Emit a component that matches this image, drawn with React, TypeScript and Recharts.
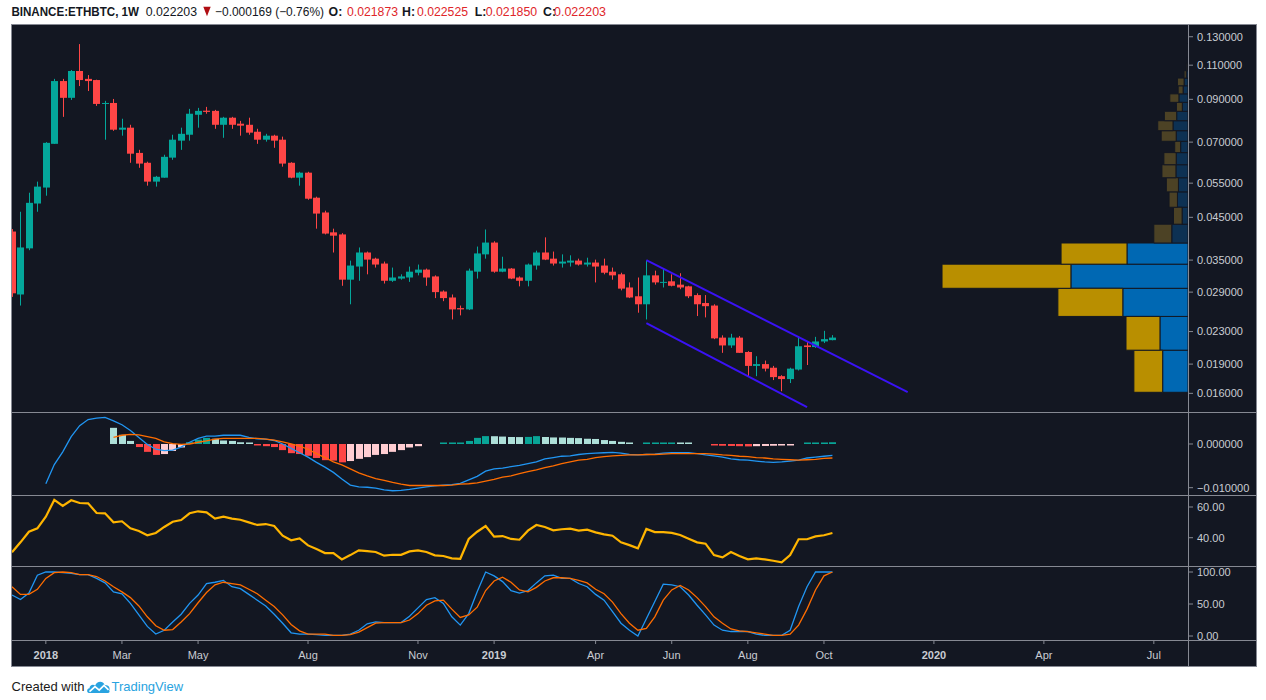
import React from "react";
import {
  ComposedChart,
  Bar,
  Line,
  XAxis,
  YAxis,
  ReferenceArea,
  ReferenceLine,
} from "recharts";

// ---------- Weekly candles (BINANCE:ETHBTC, 1W), from week of 4 Dec 2017 ----------
const OPEN = [
  0.0414, 0.0286, 0.0375, 0.0488, 0.0536, 0.0693, 0.1002, 0.0908, 0.1063, 0.1015,
  0.1008, 0.0876, 0.0881, 0.0753, 0.0762, 0.0657, 0.062, 0.0555, 0.0568, 0.0639,
  0.0706, 0.0731, 0.0822, 0.0842, 0.0841, 0.0775, 0.0808, 0.078, 0.0775, 0.0744,
  0.071, 0.0727, 0.071, 0.062, 0.0568, 0.0585, 0.0505, 0.0463, 0.0412, 0.0407,
  0.0312, 0.0337, 0.0366, 0.0353, 0.0343, 0.031, 0.0314, 0.0316, 0.0325, 0.0331,
  0.0318, 0.0291, 0.0281, 0.0264, 0.0262, 0.0327, 0.0362, 0.0388, 0.0327, 0.0333,
  0.0316, 0.031, 0.0339, 0.0366, 0.0353, 0.0343, 0.0345, 0.0349, 0.0341, 0.0345,
  0.0339, 0.0327, 0.0322, 0.0298, 0.0283, 0.027, 0.032, 0.0307, 0.0309, 0.0303,
  0.03, 0.0285, 0.0272, 0.0268, 0.0222, 0.0212, 0.0222, 0.0204, 0.0188, 0.019,
  0.0186, 0.0177, 0.0174, 0.0184, 0.0212, 0.021, 0.0217, 0.021873,
];
const HIGH = [
  0.042, 0.0465, 0.052, 0.0555, 0.07, 0.1015, 0.1015, 0.1069, 0.1245, 0.1038,
  0.101, 0.0892, 0.0902, 0.0803, 0.0775, 0.0669, 0.0624, 0.0574, 0.065, 0.0731,
  0.0762, 0.0851, 0.0856, 0.0861, 0.0846, 0.0812, 0.0812, 0.0793, 0.0808, 0.0757,
  0.0735, 0.0731, 0.0723, 0.0622, 0.0588, 0.0588, 0.0508, 0.0468, 0.0421, 0.041,
  0.0349, 0.0377, 0.0368, 0.0355, 0.0347, 0.0335, 0.0322, 0.0337, 0.0341, 0.0333,
  0.032, 0.0293, 0.0286, 0.0268, 0.0333, 0.0379, 0.0419, 0.0391, 0.0357, 0.0334,
  0.0318, 0.0343, 0.037, 0.04, 0.0368, 0.0362, 0.036, 0.0353, 0.0355, 0.0351,
  0.0353, 0.0335, 0.0325, 0.0307, 0.0316, 0.0349, 0.0329, 0.0333, 0.0322, 0.0324,
  0.0301, 0.0288, 0.0285, 0.027, 0.0225, 0.0227, 0.0224, 0.0205, 0.0199, 0.0194,
  0.0188, 0.0178, 0.0186, 0.0224, 0.0217, 0.0223, 0.0231, 0.022525,
];
const LOW = [
  0.0282, 0.0268, 0.0371, 0.0465, 0.0511, 0.0693, 0.0812, 0.0897, 0.0973, 0.0945,
  0.0866, 0.071, 0.0748, 0.0727, 0.062, 0.0602, 0.0542, 0.0539, 0.0568, 0.0631,
  0.0669, 0.0706, 0.0762, 0.0827, 0.0757, 0.0718, 0.0757, 0.0727, 0.0731, 0.0693,
  0.0702, 0.0677, 0.0606, 0.0566, 0.0542, 0.0499, 0.0421, 0.0407, 0.0366, 0.0301,
  0.027, 0.031, 0.0322, 0.0335, 0.0305, 0.0308, 0.0312, 0.0308, 0.032, 0.0301,
  0.028, 0.0275, 0.0247, 0.0253, 0.0261, 0.0314, 0.0353, 0.0325, 0.0326, 0.0313,
  0.03, 0.03, 0.0331, 0.035, 0.0339, 0.0335, 0.0337, 0.0339, 0.0337, 0.0307,
  0.0322, 0.0312, 0.0293, 0.028, 0.0257, 0.0247, 0.0303, 0.0298, 0.03, 0.0295,
  0.028, 0.0252, 0.025, 0.022, 0.0203, 0.0209, 0.0203, 0.0177, 0.0177, 0.0182,
  0.0173, 0.0162, 0.017, 0.0183, 0.0189, 0.0209, 0.0215, 0.02185,
];
const CLOSE = [
  0.0288, 0.0377, 0.049, 0.0539, 0.0697, 0.1002, 0.0908, 0.1063, 0.1008, 0.1002,
  0.0876, 0.0881, 0.0753, 0.0762, 0.0654, 0.0617, 0.0555, 0.0571, 0.0642, 0.071,
  0.0735, 0.0827, 0.0841, 0.0836, 0.0775, 0.0808, 0.0775, 0.0771, 0.074, 0.071,
  0.0727, 0.0706, 0.0617, 0.0568, 0.0585, 0.0502, 0.046, 0.0409, 0.0404, 0.0312,
  0.0339, 0.0366, 0.0351, 0.0341, 0.031, 0.0316, 0.0318, 0.0327, 0.0331, 0.0316,
  0.029, 0.028, 0.0262, 0.0262, 0.0329, 0.0364, 0.0388, 0.0327, 0.0333, 0.0314,
  0.031, 0.0341, 0.0366, 0.0351, 0.0343, 0.0347, 0.0349, 0.0341, 0.0345, 0.0337,
  0.0325, 0.032, 0.0296, 0.0281, 0.027, 0.032, 0.0307, 0.0308, 0.0301, 0.0298,
  0.0283, 0.027, 0.0267, 0.0221, 0.0212, 0.0222, 0.0203, 0.0188, 0.019, 0.0185,
  0.0176, 0.0174, 0.0185, 0.0211, 0.021, 0.0217, 0.022, 0.022203,
];

// ---------- MACD (12, 26, 9) ----------
const MACD = [
  null, null, null, null, -0.0091, -0.0047, -0.0018, 0.0017, 0.0042, 0.0056,
  0.0059, 0.0061, 0.0053, 0.0044, 0.0031, 0.0015, -0.0001, -0.0012, -0.0015, -0.0014,
  -0.0007, 0.0004, 0.0013, 0.0018, 0.0018, 0.002, 0.002, 0.002, 0.0015, 0.0012,
  0.0011, 0.0008, 0.0, -0.001, -0.002, -0.003, -0.0042, -0.0053, -0.0065, -0.008,
  -0.0094, -0.0098, -0.0099, -0.0101, -0.0105, -0.0107, -0.0106, -0.0104, -0.0101, -0.0098,
  -0.0096, -0.0094, -0.0093, -0.009, -0.0082, -0.0074, -0.0062, -0.0057, -0.0055, -0.0052,
  -0.0049, -0.0045, -0.0041, -0.0034, -0.0031, -0.0028, -0.0027, -0.0024, -0.0022, -0.0021,
  -0.002, -0.0019, -0.0021, -0.0024, -0.0025, -0.0024, -0.0023, -0.0021, -0.002, -0.002,
  -0.002, -0.0022, -0.0025, -0.0027, -0.003, -0.0034, -0.0036, -0.0037, -0.0039, -0.0041,
  -0.0042, -0.0041, -0.0039, -0.0037, -0.0032, -0.003, -0.0028, -0.0026,
];
const SIGNAL = [
  null, null, null, null, null, null, null, null, null, null,
  null, null, 0.0015, 0.002, 0.0022, 0.0021, 0.0017, 0.0013, 0.0005, 0.0001,
  -0.0001, 0.0, 0.0004, 0.0007, 0.0011, 0.0013, 0.0013, 0.0013, 0.0013, 0.0013,
  0.0011, 0.0009, 0.0005, 0.0, -0.0005, -0.0012, -0.0022, -0.0031, -0.0041, -0.0048,
  -0.0057, -0.0066, -0.0073, -0.0079, -0.0083, -0.0088, -0.0092, -0.0095, -0.0095, -0.0095,
  -0.0095, -0.0095, -0.0094, -0.0092, -0.0091, -0.0089, -0.0085, -0.0081, -0.0076, -0.0073,
  -0.0068, -0.0063, -0.0059, -0.0054, -0.005, -0.0045, -0.0041, -0.0037, -0.0035, -0.0031,
  -0.0029, -0.0027, -0.0026, -0.0025, -0.0025, -0.0024, -0.0024, -0.0023, -0.0022, -0.0022,
  -0.0022, -0.0022, -0.0022, -0.0023, -0.0025, -0.0026, -0.0028, -0.0029, -0.0031, -0.0032,
  -0.0034, -0.0035, -0.0036, -0.0037, -0.0036, -0.0035, -0.0033, -0.0032,
];
const HIST = [
  null, null, null, null, null, null, null, null, null, null,
  null, null, 0.0037, 0.0021, 0.0007, -0.0007, -0.0018, -0.0025, -0.0023, -0.0016,
  -0.0008, 0.0004, 0.001, 0.0014, 0.0012, 0.0008, 0.0007, 0.0004, 0.0002, -0.0002,
  -0.0005, -0.0007, -0.0014, -0.0021, -0.0023, -0.0027, -0.0032, -0.0037, -0.0038, -0.0042,
  -0.0039, -0.0034, -0.003, -0.0025, -0.0023, -0.0018, -0.0014, -0.0008, -0.0005, 0,
  0, 0.0001, 0.00012, 0.00014, 0.0007, 0.0014, 0.0018, 0.00178, 0.0017, 0.0016,
  0.00158, 0.00162, 0.0018, 0.0016, 0.0015, 0.00148, 0.0014, 0.00135, 0.0012, 0.00115,
  0.0009, 0.0007, 0.0005, 0.0003, 0, 0.0001, 0.00012, 0.00014, 0.00016, 0.00014,
  0.00012, 0, 0, -0.0003, -0.0004, -0.00045, -0.0005, -0.00055, -0.0005, -0.00045,
  -0.0004, -0.00035, -0.0002, 0, 0.0001, 0.0002, 0.0003, 0.0004,
];

// ---------- RSI (14) ----------
const RSI = [
  30.5, 37.0, 43.9, 46.1, 53.7, 64.6, 60.7, 64.4, 62.6, 62.4,
  56.1, 55.9, 50.0, 50.7, 46.1, 44.4, 41.6, 43.1, 47.0, 50.4,
  51.5, 55.9, 57.2, 56.5, 52.4, 53.7, 52.4, 51.7, 50.0, 48.3,
  48.9, 47.6, 41.3, 38.3, 39.6, 35.0, 32.6, 30.0, 30.0, 25.9,
  28.7, 31.8, 31.3, 30.7, 28.3, 28.9, 28.9, 31.1, 31.8, 30.7,
  28.5, 28.1, 26.6, 26.3, 39.2, 43.9, 47.6, 40.7, 41.1, 39.2,
  38.7, 44.6, 48.3, 47.0, 44.8, 45.5, 45.9, 44.6, 45.2, 43.5,
  42.2, 41.3, 37.0, 35.2, 33.1, 45.7, 43.7, 43.7, 43.1, 41.8,
  39.4, 37.0, 36.1, 28.7, 27.2, 30.7, 28.1, 25.9, 26.6, 25.9,
  25.0, 24.0, 28.7, 39.0, 39.0, 40.9, 41.6, 43.1,
];

// ---------- Stochastic %K / %D ----------
const STOCH_K = [
  64, 57, 67, 95, 100, 100, 99, 98, 96, 96,
  90, 83, 69, 66, 51, 33, 15, 3, 9, 22,
  34, 51, 64, 82, 84, 87, 77, 74, 65, 56,
  47, 34, 20, 5, 3, 3, 2, 1, 1, 1,
  3, 9, 19, 22, 21, 21, 21, 31, 44, 57,
  60, 51, 30, 17, 35, 69, 100, 94, 85, 71,
  67, 71, 83, 94, 95, 90, 90, 82, 77, 65,
  56, 38, 20, 9, 0, 27, 54, 81, 80, 77,
  64, 48, 33, 17, 9, 7, 7, 7, 3, 1,
  1, 1, 9, 46, 77, 100, 100, 100,
];
const STOCH_D = [
  77, 65, 65, 73, 90, 99, 100, 99, 96, 96,
  93, 86, 77, 69, 60, 47, 30, 16, 9, 10,
  22, 35, 52, 68, 80, 84, 82, 80, 73, 66,
  56, 46, 33, 18, 8, 3, 3, 3, 1, 1,
  2, 6, 13, 20, 21, 21, 21, 25, 35, 48,
  55, 56, 42, 29, 33, 45, 71, 86, 92, 84,
  72, 69, 76, 86, 91, 91, 90, 87, 83, 73,
  66, 53, 35, 20, 9, 12, 30, 56, 72, 79,
  72, 60, 46, 30, 20, 11, 8, 7, 5, 3,
  1, 1, 3, 17, 42, 72, 94, 100,
];

// ---------- Volume profile (visible range), rows of equal price height ----------
const VP_BASE = 0.0161;
const VP_STEP = 0.00452;
const VP_UP = [10.3, 11.4, 26.5, 47.6, 24.8, 6.6, 2.4, 4.3, 3.9, 4.9, 4.8, 3.0, 4.8, 6.1, 4.6, 2.3, 3.7, 2.0, 1.6, 0.7, 0.3, 0.2, 0.1, 0.1];
const VP_DOWN = [11.7, 13.8, 26.4, 52.4, 26.8, 7.3, 3.5, 3.4, 4.9, 5.7, 5.0, 2.4, 6.1, 6.2, 5.0, 2.4, 3.7, 2.0, 2.7, 0.9, 0.4, 0.2, 0.1, 0.1];
const VP_VALUE_AREA = [true, true, true, true, true, false, false, false, false, false, false, false, false, false, false, false, false, false, false, false, false, false, false, false];

// ---------- Drawn channel ----------
const CHANNEL_UPPER = [{ x: 75, y: 0.035 }, { x: 105.9, y: 0.01612 }];
const CHANNEL_LOWER = [{ x: 75, y: 0.02418 }, { x: 94.0, y: 0.01475 }];

// ---------- Axes ----------
const PRICE_TICKS = [0.016, 0.019, 0.023, 0.029, 0.035, 0.045, 0.055, 0.07, 0.09, 0.11, 0.13];
const MACD_TICKS = [-0.01, 0];
const RSI_TICKS = [40, 60];
const STOCH_TICKS = [0, 50, 100];
const X_TICKS = [4, 13, 22, 35, 48, 57, 69, 78, 87, 96, 109, 122, 135];
const X_LABELS = ["2018", "Mar", "May", "Aug", "Nov", "2019", "Apr", "Jun", "Aug", "Oct", "2020", "Apr", "Jul"];

const HEADER_SYMBOL = "BINANCE:ETHBTC, 1W";
const HEADER_CHANGE = "\u22120.000169 (\u22120.76%)";

// ---------- Styles ----------
const BG = "#131722";
const LINE_GRAY = "#868993";
const TXT = "#c9ccd2";
const FONT = "'Liberation Sans', Arial, Helvetica, sans-serif";
const UP = "#04a79b";
const DOWN = "#ff4646";
const CHANNEL = "#3a12f5";
const MACD_C = "#2196f3";
const SIGNAL_C = "#ff6d00";
const RSI_C = "#ffb500";
const H_GROW_ABOVE = "#09a597";
const H_FALL_ABOVE = "#aee0d9";
const H_GROW_BELOW = "#ffcdd2";
const H_FALL_BELOW = "#ff4646";
const VP_UP_C = "#0068b3";
const VP_DOWN_C = "#b98f00";
const VP_UP_FADED = "#0d3153";
const VP_DOWN_FADED = "#4c4225";

const W = 1245;
const AXIS_W = 68;
const X_DOMAIN: [number, number] = [-0.118, 139.04];
const PRICE_DOMAIN: [number, number] = [0.01434, 0.1401];
const MACD_DOMAIN: [number, number] = [-0.01167, 0.00732];
const RSI_DOMAIN: [number, number] = [21.6, 67.8];
const STOCH_DOMAIN: [number, number] = [-6.25, 109.4];
// the profile is anchored to the right edge of the price pane; its largest row
// (100 volume units) takes about 21% of the pane width
const VP_FULL_UNITS = 478.5;
const VP_SCALE = (X_DOMAIN[1] - X_DOMAIN[0]) / VP_FULL_UNITS;

function histColor(v: number | null, prev: number | null) {
  if (v == null) return null;
  const rising = prev != null && prev < v;
  if (v >= 0) return rising ? H_GROW_ABOVE : H_FALL_ABOVE;
  return rising ? H_GROW_BELOW : H_FALL_BELOW;
}

const data = OPEN.map((o, i) => ({
  i,
  o,
  h: HIGH[i],
  l: LOW[i],
  c: CLOSE[i],
  macd: MACD[i],
  signal: SIGNAL[i],
  hist: HIST[i],
  histColor: histColor(HIST[i], i > 0 ? HIST[i - 1] : null),
  rsi: RSI[i],
  k: STOCH_K[i],
  d: STOCH_D[i],
}));

const vpRows = VP_UP.map((up, k) => ({
  k,
  lo: VP_BASE + k * VP_STEP,
  hi: VP_BASE + (k + 1) * VP_STEP,
  upFrom: X_DOMAIN[1] - up * VP_SCALE,
  downFrom: X_DOMAIN[1] - (up + VP_DOWN[k]) * VP_SCALE,
  va: VP_VALUE_AREA[k],
}));

const candleRange = (d: any) => [d.l, d.h];

const CandleShape = (props: any) => {
  let { x, y, width, height } = props;
  const payload = props.payload;
  if (!payload || x == null || y == null) return null;
  if (height < 0) {
    y = y + height;
    height = -height;
  }
  const { o, h, l, c } = payload;
  const lnH = Math.log(h);
  const lnL = Math.log(l);
  const span = lnH - lnL || 1;
  const py = (v: number) => y + ((lnH - Math.log(v)) / span) * height;
  const color = c >= o ? UP : DOWN;
  const top = py(Math.max(o, c));
  const bot = py(Math.min(o, c));
  const left = Math.round(x);
  const w = Math.max(1, Math.round(width));
  const cx = left + Math.floor(w / 2);
  return (
    <g>
      <rect x={cx} y={y} width={1} height={Math.max(height, 1)} fill={color} />
      <rect x={left} y={top} width={w} height={Math.max(bot - top, 1)} fill={color} />
    </g>
  );
};

const HistShape = (props: any) => {
  const { x, y, width, height, payload } = props;
  if (!payload || payload.hist == null || payload.hist === 0 || x == null) return null;
  const v = payload.hist;
  const y1 = Math.min(y, y + height);
  const y2 = Math.max(y, y + height);
  const hgt = Math.max(y2 - y1, 1.5);
  const top = v > 0 ? y2 - hgt : y1;
  return <rect x={Math.round(x)} y={top} width={Math.round(width)} height={hgt} fill={payload.histColor} />;
};

const XTick = (props: any) => {
  const { x, y, payload } = props;
  const idx = X_TICKS.indexOf(payload.value);
  const label = idx >= 0 ? X_LABELS[idx] : "";
  const bold = /^\d{4}$/.test(label);
  return (
    <text x={x} y={y} dy="0.71em" textAnchor="middle" fill={TXT} fontSize={11} fontWeight={bold ? 700 : 400} fontFamily={FONT}>
      {label}
    </text>
  );
};

const tickStyle = { fill: TXT, fontSize: 11, fontFamily: FONT };
const margin0 = { top: 0, right: 0, bottom: 0, left: 0 };
const minusFmt = (digits: number) => (v: number) => (v < 0 ? "\u2212" : "") + Math.abs(v).toFixed(digits);

function MainPane() {
  return (
    <ComposedChart width={W} height={388} data={data} margin={margin0}>
      <XAxis dataKey="i" type="number" domain={X_DOMAIN} allowDataOverflow hide />
      <YAxis
        orientation="right"
        width={AXIS_W}
        scale="log"
        domain={PRICE_DOMAIN}
        allowDataOverflow
        ticks={PRICE_TICKS}
        interval={0}
        tickFormatter={(v: number) => v.toFixed(6)}
        axisLine={false}
        tickLine={{ stroke: LINE_GRAY }}
        tickSize={5}
        tickMargin={4}
        tick={tickStyle}
      />
      {vpRows.map((r) => (
        <ReferenceArea
          key={`vu${r.k}`}
          x1={r.upFrom}
          x2={X_DOMAIN[1]}
          y1={r.lo}
          y2={r.hi}
          fill={r.va ? VP_UP_C : VP_UP_FADED}
          fillOpacity={1}
          stroke={BG}
          strokeWidth={1}
          ifOverflow="visible"
        />
      ))}
      {vpRows.map((r) => (
        <ReferenceArea
          key={`vd${r.k}`}
          x1={r.downFrom}
          x2={r.upFrom}
          y1={r.lo}
          y2={r.hi}
          fill={r.va ? VP_DOWN_C : VP_DOWN_FADED}
          fillOpacity={1}
          stroke={BG}
          strokeWidth={1}
          ifOverflow="visible"
        />
      ))}
      <Bar dataKey={candleRange} shape={CandleShape} barSize={7} isAnimationActive={false} />
      <ReferenceLine segment={CHANNEL_UPPER} stroke={CHANNEL} strokeWidth={2} ifOverflow="visible" />
      <ReferenceLine segment={CHANNEL_LOWER} stroke={CHANNEL} strokeWidth={2} ifOverflow="visible" />
    </ComposedChart>
  );
}

function MacdPane() {
  return (
    <ComposedChart width={W} height={83} data={data} margin={margin0}>
      <XAxis dataKey="i" type="number" domain={X_DOMAIN} allowDataOverflow hide />
      <YAxis
        orientation="right"
        width={AXIS_W}
        domain={MACD_DOMAIN}
        allowDataOverflow
        ticks={MACD_TICKS}
        interval={0}
        tickFormatter={minusFmt(6)}
        axisLine={false}
        tickLine={{ stroke: LINE_GRAY }}
        tickSize={5}
        tickMargin={4}
        tick={tickStyle}
      />
      <Bar dataKey="hist" shape={HistShape} barSize={7} isAnimationActive={false} />
      <Line dataKey="macd" stroke={MACD_C} strokeWidth={1.3} dot={false} activeDot={false} isAnimationActive={false} />
      <Line dataKey="signal" stroke={SIGNAL_C} strokeWidth={1.3} dot={false} activeDot={false} isAnimationActive={false} />
    </ComposedChart>
  );
}

function RsiPane() {
  return (
    <ComposedChart width={W} height={71} data={data} margin={margin0}>
      <XAxis dataKey="i" type="number" domain={X_DOMAIN} allowDataOverflow hide />
      <YAxis
        orientation="right"
        width={AXIS_W}
        domain={RSI_DOMAIN}
        allowDataOverflow
        ticks={RSI_TICKS}
        interval={0}
        tickFormatter={(v: number) => v.toFixed(2)}
        axisLine={false}
        tickLine={{ stroke: LINE_GRAY }}
        tickSize={5}
        tickMargin={4}
        tick={tickStyle}
      />
      <Line dataKey="rsi" stroke={RSI_C} strokeWidth={2.2} dot={false} activeDot={false} isAnimationActive={false} />
    </ComposedChart>
  );
}

function StochPane() {
  return (
    <ComposedChart width={W} height={101} data={data} margin={margin0}>
      <XAxis
        dataKey="i"
        type="number"
        domain={X_DOMAIN}
        allowDataOverflow
        ticks={X_TICKS}
        interval={0}
        height={27}
        axisLine={false}
        tickLine={{ stroke: LINE_GRAY }}
        tickSize={4}
        tickMargin={7}
        tick={<XTick />}
      />
      <YAxis
        orientation="right"
        width={AXIS_W}
        domain={STOCH_DOMAIN}
        allowDataOverflow
        ticks={STOCH_TICKS}
        interval={0}
        tickFormatter={(v: number) => v.toFixed(2)}
        axisLine={false}
        tickLine={{ stroke: LINE_GRAY }}
        tickSize={5}
        tickMargin={4}
        tick={tickStyle}
      />
      <Line dataKey="k" stroke={MACD_C} strokeWidth={1.3} dot={false} activeDot={false} isAnimationActive={false} />
      <Line dataKey="d" stroke={SIGNAL_C} strokeWidth={1.3} dot={false} activeDot={false} isAnimationActive={false} />
    </ComposedChart>
  );
}

const hLine = (top: number) => (
  <div key={`h${top}`} style={{ position: "absolute", left: 11, top, width: 1246, height: 1, background: LINE_GRAY }} />
);

export default function App() {
  const last = OPEN.length - 1;
  const f6 = (v: number) => v.toFixed(6);
  const RED = "#e0262a";
  const DARK = "#131722";
  const HY = 15.5;
  return (
    <div
      style={{
        position: "absolute",
        left: 0,
        top: 0,
        width: 1266,
        height: 700,
        background: "#ffffff",
        overflow: "hidden",
        fontFamily: FONT,
      }}
    >
      <div style={{ position: "absolute", left: 11, top: 24, width: 1246, height: 643, background: BG }} />
      <div style={{ position: "absolute", left: 11, top: 24 }}>
        <MainPane />
      </div>
      <div style={{ position: "absolute", left: 11, top: 412 }}>
        <MacdPane />
      </div>
      <div style={{ position: "absolute", left: 11, top: 495 }}>
        <RsiPane />
      </div>
      <div style={{ position: "absolute", left: 11, top: 566 }}>
        <StochPane />
      </div>
      {/* frame and pane separators */}
      <div
        style={{
          position: "absolute",
          left: 11,
          top: 24,
          width: 1246,
          height: 643,
          border: `1px solid ${LINE_GRAY}`,
          boxSizing: "border-box",
        }}
      />
      {[412, 495, 566, 640].map(hLine)}
      <div style={{ position: "absolute", left: 1188, top: 24, width: 1, height: 643, background: LINE_GRAY }} />

      <svg width={1266} height={700} style={{ position: "absolute", left: 0, top: 0, pointerEvents: "none" }}>
        <g fontFamily={FONT} fontSize={12.3}>
          <text x={11.4} y={HY} fill={DARK} fontWeight={700} textLength={127.6} lengthAdjust="spacingAndGlyphs">
            {HEADER_SYMBOL}
          </text>
          <text x={145.7} y={HY} fill={DARK} textLength={51.4} lengthAdjust="spacingAndGlyphs">
            {f6(CLOSE[last])}
          </text>
          <path d="M203.3,6.8 L210.7,6.8 L207,16.2 Z" fill="#b00d12" />
          <text x={215} y={HY} fill={DARK} textLength={109} lengthAdjust="spacingAndGlyphs">
            {HEADER_CHANGE}
          </text>
          <text x={328.6} y={HY} fill={DARK} fontWeight={700}>O:</text>
          <text x={347} y={HY} fill={RED} textLength={51} lengthAdjust="spacingAndGlyphs">
            {f6(OPEN[last])}
          </text>
          <text x={402} y={HY} fill={DARK} fontWeight={700}>H:</text>
          <text x={417} y={HY} fill={RED} textLength={51} lengthAdjust="spacingAndGlyphs">
            {f6(HIGH[last])}
          </text>
          <text x={474.7} y={HY} fill={DARK} fontWeight={700}>L:</text>
          <text x={485.7} y={HY} fill={RED} textLength={51.5} lengthAdjust="spacingAndGlyphs">
            {f6(LOW[last])}
          </text>
          <text x={543} y={HY} fill={DARK} fontWeight={700}>C:</text>
          <text x={554} y={HY} fill={RED} textLength={52} lengthAdjust="spacingAndGlyphs">
            {f6(CLOSE[last])}
          </text>
        </g>
        <g fontFamily={FONT} fontSize={13}>
          <text x={11.5} y={691} fill="#1a1a1a">
            Created with
          </text>
          <g transform="translate(87,680)">
            <path
              d="M2,13 C-0.5,13 -0.5,8.5 2.5,8.3 C2.6,5 6,3.8 8.2,5.6 C9.6,0.8 16.2,0.4 17.6,5 C21.2,4.4 23.8,7.8 22.2,10.6 C23.2,12 22.2,13 21,13 Z"
              fill="#29a3e0"
            />
            <polyline points="2.5,11.6 8,6.6 12.2,10.2 17,5.4 21.5,9.8" fill="none" stroke="#ffffff" strokeWidth={1.7} />
          </g>
          <text x={111.5} y={691} fill="#29a3e0">
            TradingView
          </text>
        </g>
      </svg>
    </div>
  );
}
